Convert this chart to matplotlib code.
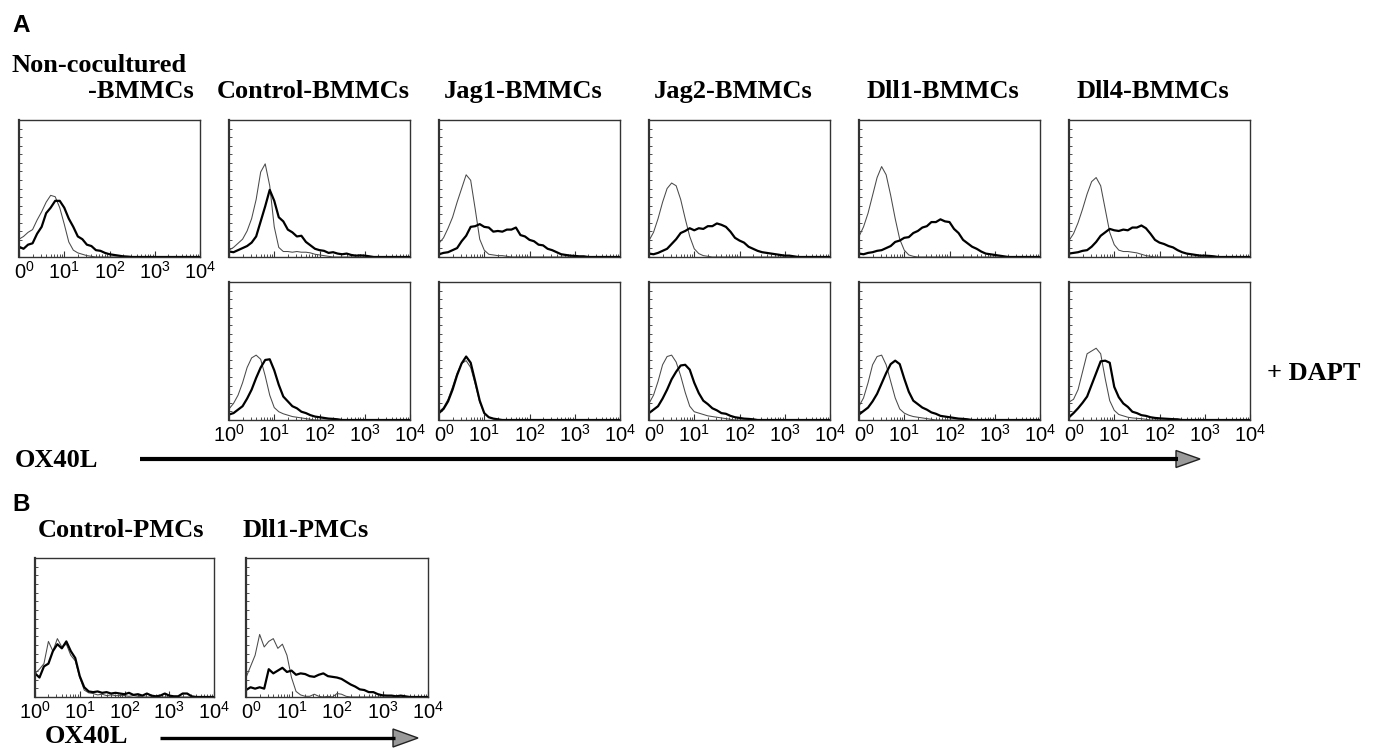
import numpy as np
import matplotlib
matplotlib.use("Agg")
import matplotlib.pyplot as plt

# ---------------- data ----------------
# x grid: log10 fluorescence, 0.0 .. 4.0 in 0.1 steps (41 channels)
log_x = [i / 10 for i in range(41)]

row1_titles = ["Non-cocultured", "Control-BMMCs", "Jag1-BMMCs", "Jag2-BMMCs", "Dll1-BMMCs", "Dll4-BMMCs"]
row1_title_2nd_line = "-BMMCs"
row2_label = "+ DAPT"
b_titles = ["Control-PMCs", "Dll1-PMCs"]
tick_values = [1, 10, 100, 1000, 10000]
tick_labels = ["10^0", "10^1", "10^2", "10^3", "10^4"]
axis_label = "OX40L"

# isotype (thin) and OX40L (thick) histograms, % of panel height
noncoc_thin = [13, 15, 18, 20, 27, 33, 40, 45, 44, 36,
               24, 11, 5, 3, 2, 1, 0.5, 0, 0, 0,
               0, 0, 0, 0, 0, 0, 0, 0, 0, 0,
               0, 0, 0, 0, 0, 0, 0, 0, 0, 0, 0]
noncoc_thick = [7.5, 6, 9, 10, 17, 22, 32, 36, 41, 41,
                36, 28, 22, 15, 13, 9, 8, 5, 4.5, 3,
                2, 1.5, 1, 0.5, 0.3, 0, 0, 0, 0, 0,
                0, 0, 0, 0, 0, 0, 0, 0, 0, 0, 0]

ctrl_thin = [5, 7, 10, 13, 19, 28, 42, 62, 68, 52,
             22, 7, 4, 4, 3.5, 4, 3.5, 3.5, 3, 2,
             1.5, 1, 0.5, 0, 0, 0, 0, 0, 0, 0,
             0, 0, 0, 0, 0, 0, 0, 0, 0, 0, 0]
ctrl_thick = [4, 3.5, 5, 6.5, 8, 10.5, 15, 26, 37, 49,
              41, 29, 26, 20, 18, 15, 15.5, 11, 8.5, 6,
              5, 4.5, 3, 3.5, 2.5, 2, 2.5, 1.5, 1, 1.2,
              1, 0.5, 0, 0, 0, 0, 0, 0, 0, 0, 0]
jag1_thin = [10, 14, 21, 29, 40, 50, 60, 56, 35, 13,
             5, 2, 1.5, 1, 1, 0.5, 0, 0, 0, 0,
             0, 0, 0, 0, 0, 0, 0, 0, 0, 0,
             0, 0, 0, 0, 0, 0, 0, 0, 0, 0, 0]
jag1_thick = [2, 3, 3.5, 5, 6.5, 11.5, 15.5, 22, 22.5, 24,
              22, 21.5, 18.5, 19, 18.5, 20, 20, 21.5, 16, 15,
              12.5, 11.5, 9, 8.5, 6, 5, 3.5, 2, 1.5, 1,
              0.8, 0.5, 0.5, 0, 0, 0, 0, 0, 0, 0, 0]
jag2_thin = [12, 18, 28, 40, 50, 54, 52, 42, 28, 15,
             6, 2.5, 1, 0.5, 0, 0, 0, 0, 0, 0,
             0, 0, 0, 0, 0, 0, 0, 0, 0, 0,
             0, 0, 0, 0, 0, 0, 0, 0, 0, 0, 0]
jag2_thick = [2.5, 2, 3, 4.5, 6, 9.5, 13, 17.5, 19, 21,
              19.5, 21, 20.5, 22.5, 22.5, 24.5, 23.5, 22, 18.5, 14,
              12, 10.5, 7.5, 6, 4.5, 3.5, 3, 2.5, 2, 1.5,
              1, 1, 0.5, 0, 0, 0, 0, 0, 0, 0, 0]
dll1_thin = [15, 22, 32, 45, 58, 66, 60, 45, 28, 13,
             5, 1.5, 0.5, 0, 0, 0, 0, 0, 0, 0,
             0, 0, 0, 0, 0, 0, 0, 0, 0, 0,
             0, 0, 0, 0, 0, 0, 0, 0, 0, 0, 0]
dll1_thick = [2.5, 2, 3, 3.5, 4.5, 5, 6.5, 8, 11, 12,
              14, 14.5, 17.5, 19, 21.5, 22.5, 25.5, 25.5, 27.5, 26,
              25.5, 20.5, 17.5, 12.5, 10, 7.5, 6, 4, 2.5, 2,
              1.5, 1, 0.5, 0, 0, 0, 0, 0, 0, 0, 0]
dll4_thin = [12, 17, 25, 35, 46, 55, 58, 52, 35, 18,
             9, 5, 4, 4, 3.5, 3, 2, 1, 0.5, 0,
             0, 0, 0, 0, 0, 0, 0, 0, 0, 0,
             0, 0, 0, 0, 0, 0, 0, 0, 0, 0, 0]
dll4_thick = [2.5, 3, 3.5, 4.5, 5, 7.5, 11, 15.5, 18, 20.5,
              19.5, 19, 20, 19.5, 21.5, 21.5, 23, 21, 17, 12.5,
              10.5, 9.5, 8, 7, 5, 3.5, 2.5, 2, 1.5, 1,
              1, 0.8, 0.5, 0, 0, 0, 0, 0, 0, 0, 0]

ctrl_dapt_thin = [8, 12, 18, 27, 38, 45, 47, 44, 32, 18,
                  9, 6, 4.5, 3.5, 2.5, 2, 1.5, 1, 0.5, 0,
                  0, 0, 0, 0, 0, 0, 0, 0, 0, 0,
                  0, 0, 0, 0, 0, 0, 0, 0, 0, 0, 0]
ctrl_dapt_thick = [4, 5, 7.5, 10, 15.5, 22, 30.5, 38, 43.5, 44,
                   36, 25.5, 17, 13.5, 10, 8.5, 6, 5, 3.5, 2.5,
                   2, 1.5, 1, 0.8, 0.5, 0, 0, 0, 0, 0,
                   0, 0, 0, 0, 0, 0, 0, 0, 0, 0, 0]
jag1_dapt_thin = [6, 9, 15, 24, 34, 41, 43, 38, 26, 13,
                  5, 2, 1, 0.5, 0, 0, 0, 0, 0, 0,
                  0, 0, 0, 0, 0, 0, 0, 0, 0, 0,
                  0, 0, 0, 0, 0, 0, 0, 0, 0, 0, 0]
jag1_dapt_thick = [5, 8, 13.5, 22, 32.5, 41, 46, 41.5, 28, 14,
                   5, 2, 1, 0.5, 0, 0, 0, 0, 0, 0,
                   0, 0, 0, 0, 0, 0, 0, 0, 0, 0,
                   0, 0, 0, 0, 0, 0, 0, 0, 0, 0, 0]
jag2_dapt_thin = [12, 18, 28, 40, 46, 47, 42, 32, 20, 10,
                  6, 5, 4, 3, 2.5, 2, 1.5, 1, 0.5, 0,
                  0, 0, 0, 0, 0, 0, 0, 0, 0, 0,
                  0, 0, 0, 0, 0, 0, 0, 0, 0, 0, 0]
jag2_dapt_thick = [5, 7.5, 10, 15.5, 22, 29.5, 35, 39.5, 40, 36.5,
                   27, 19.5, 14, 11.5, 8.5, 7, 5, 4.5, 3, 2,
                   1.5, 1, 0.8, 0.5, 0, 0, 0, 0, 0, 0,
                   0, 0, 0, 0, 0, 0, 0, 0, 0, 0, 0]
dll1_dapt_thin = [10, 16, 27, 40, 46, 47, 40, 28, 16, 8,
                  5, 3.5, 2.5, 2, 1.5, 1, 0.5, 0, 0, 0,
                  0, 0, 0, 0, 0, 0, 0, 0, 0, 0,
                  0, 0, 0, 0, 0, 0, 0, 0, 0, 0, 0]
dll1_dapt_thick = [4, 6.5, 9, 13.5, 19, 26.5, 34, 40.5, 43, 40.5,
                   30, 20.5, 14, 11.5, 9, 7.5, 5.5, 4.5, 3, 2.5,
                   2, 1.5, 1, 0.8, 0.5, 0, 0, 0, 0, 0,
                   0, 0, 0, 0, 0, 0, 0, 0, 0, 0, 0]
dll4_dapt_thin = [13, 15, 22, 35, 48, 50, 52, 48, 30, 14,
                  7, 4, 3, 2, 1.5, 1.2, 1, 0.5, 0, 0,
                  0, 0, 0, 0, 0, 0, 0, 0, 0, 0,
                  0, 0, 0, 0, 0, 0, 0, 0, 0, 0, 0]
dll4_dapt_thick = [2, 5, 8.5, 12.5, 17, 25.5, 34, 42.5, 43, 41.5,
                   24, 16.5, 12, 9.5, 6, 5, 3.5, 3, 2, 1.5,
                   1.2, 1, 0.8, 0.6, 0.5, 0, 0, 0, 0, 0,
                   0, 0, 0, 0, 0, 0, 0, 0, 0, 0, 0]

pmc_ctrl_thin = [17, 20, 24, 40, 33, 42, 36, 38, 30, 26,
                 14, 5, 3, 2.5, 1.5, 2, 1, 1.5, 1, 1,
                 1, 0.5, 1, 0.5, 0, 0, 0, 0, 0, 0,
                 0, 0, 0, 0, 0, 0, 0, 0, 0, 0, 0]
pmc_ctrl_thick = [17, 14, 22, 24, 33, 38, 35, 40, 33, 28,
                  15, 7, 4, 3.5, 4, 3, 3.5, 2.5, 3, 2.5,
                  2, 3, 1.5, 2, 1, 2.5, 1, 0.5, 1, 2.5,
                  1, 0.5, 0.5, 2.5, 2.5, 0.5, 0, 0, 0, 0, 0]
pmc_dll1_thin = [14, 22, 30, 45, 36, 40, 42, 35, 38, 30,
                 14, 4, 1.5, 0.5, 0.5, 2, 0.5, 0, 0.5, 0,
                 2.5, 2, 0.5, 0, 0, 0, 0, 0, 0, 0,
                 0, 0, 0, 0, 0, 0, 0, 0, 0, 0, 0]
pmc_dll1_thick = [5, 7, 6, 7, 6, 20, 17, 19, 21, 18,
                  19, 16, 17, 16.5, 15, 14.5, 16, 17, 15, 14.5,
                  14, 13, 11, 9, 7.5, 5.5, 5, 3.5, 3.5, 2,
                  1.2, 1, 1, 0.5, 1, 0.5, 0, 0, 0, 0, 0]

# first-channel spikes (height, % of panel height)
spikes_row1 = [95, 6, 52, 10, 10, 10]
spikes_row2 = [15, 15, 15, 15, 15]
spikes_b = [60, 63]

row1_data = [(noncoc_thin, noncoc_thick), (ctrl_thin, ctrl_thick), (jag1_thin, jag1_thick),
             (jag2_thin, jag2_thick), (dll1_thin, dll1_thick), (dll4_thin, dll4_thick)]
row2_data = [(ctrl_dapt_thin, ctrl_dapt_thick), (jag1_dapt_thin, jag1_dapt_thick),
             (jag2_dapt_thin, jag2_dapt_thick), (dll1_dapt_thin, dll1_dapt_thick),
             (dll4_dapt_thin, dll4_dapt_thick)]
b_data = [(pmc_ctrl_thin, pmc_ctrl_thick), (pmc_dll1_thin, pmc_dll1_thick)]

# ---------------- figure ----------------
W, H = 1380, 750
fig = plt.figure(figsize=(W / 100, H / 100), dpi=100)
fig.patch.set_facecolor("white")

SERIF = ["Liberation Serif", "DejaVu Serif"]
SANS = ["Liberation Sans", "DejaVu Sans"]
plt.rcParams["mathtext.fontset"] = "custom"
plt.rcParams["mathtext.rm"] = "Liberation Sans"
plt.rcParams["mathtext.it"] = "Liberation Sans"
TITLE_FS = 19


def px_axes(x0, y0, w, h):
    return fig.add_axes([x0 / W, 1 - (y0 + h) / H, w / W, h / H])


def fmt_label(s, clip):
    base, exp = s.split("^")
    if clip:
        base = base[1:]
    return r"$\mathregular{%s^{%s}}$" % (base, exp)


def draw_panel(ax, thin, thick, spike, show_labels, clip_first):
    xs = [10 ** v for v in log_x]
    ax.plot(xs, thin, color="#4a4a4a", lw=0.75)
    ax.plot(xs, thick, color="black", lw=1.6)
    ax.vlines(1.0, 0, spike, color="#333333", lw=1.1)
    ax.set_xscale("log")
    ax.set_xlim(1, 1e4)
    ax.set_ylim(0, 100)
    ax.set_yticks(np.arange(0, 101, 6.25))
    ax.set_yticklabels([])
    ax.set_xticks(tick_values)
    ax.xaxis.set_minor_locator(matplotlib.ticker.LogLocator(base=10, subs=np.arange(2, 10), numticks=20))
    ax.set_xticklabels([])
    ax.xaxis.set_minor_formatter(matplotlib.ticker.NullFormatter())
    ax.tick_params(axis="both", which="both", direction="in", color="#333333")
    ax.tick_params(axis="x", which="major", length=4, width=0.8)
    ax.tick_params(axis="x", which="minor", length=2, width=0.6)
    ax.tick_params(axis="y", which="major", length=2, width=0.6)
    if show_labels:
        for i, (v, t) in enumerate(zip(tick_values, tick_labels)):
            clip = clip_first and i == 0
            ax.annotate(fmt_label(t, clip), xy=(v, 0), xycoords=("data", "axes fraction"),
                        xytext=(4.0 if clip else 0, -3), textcoords="offset points",
                        ha="center", va="top", fontsize=14.5, family=SANS, annotation_clip=False)
    for sp in ax.spines.values():
        sp.set_linewidth(1.0)
        sp.set_color("#333333")
    ax.spines["left"].set_linewidth(1.6)


lefts = [19, 229, 439, 649, 859, 1069]
PW = 181

# Row 1
for i, (thin, thick) in enumerate(row1_data):
    ax = px_axes(lefts[i], 120, PW, 137)
    draw_panel(ax, thin, thick, spikes_row1[i], show_labels=(i == 0), clip_first=True)

# Row 2
for i, (thin, thick) in enumerate(row2_data):
    ax = px_axes(lefts[i + 1], 282, PW, 138)
    draw_panel(ax, thin, thick, spikes_row2[i], show_labels=True, clip_first=(i > 0))

# Panel B
b_lefts = [35, 246]
b_widths = [179, 182]
for i, (thin, thick) in enumerate(b_data):
    ax = px_axes(b_lefts[i], 558, b_widths[i], 139)
    draw_panel(ax, thin, thick, spikes_b[i], show_labels=True, clip_first=(i > 0))


def fx(x):
    return x / W


def fy(y):
    return 1 - y / H


def serif(x, y, s, **kw):
    fig.text(fx(x), fy(y), s, fontsize=TITLE_FS, fontweight="bold", family=SERIF, va="baseline", **kw)


# titles
fig.text(fx(12), fy(32), "A", fontsize=17.5, fontweight="bold", family=SANS, va="baseline")
serif(12, 72, row1_titles[0])
serif(194, 98, row1_title_2nd_line, ha="right")
for i, t in enumerate(row1_titles[1:]):
    serif(lefts[i + 1] + 84, 98, t, ha="center")
serif(1267, 380, row2_label)

serif(15, 467, axis_label)
fig.text(fx(12), fy(511), "B", fontsize=17.5, fontweight="bold", family=SANS, va="baseline")
b_title_x = [38, 243]
for i, t in enumerate(b_titles):
    serif(b_title_x[i], 537, t, ha="left")
serif(45, 743, axis_label)


def arrow(x0, x1, y, head_len, head_w, lw):
    fig.add_artist(plt.Line2D([fx(x0), fx(x1 - head_len + 2)], [fy(y), fy(y)], color="black", lw=lw,
                              transform=fig.transFigure, solid_capstyle="butt"))
    tri = plt.Polygon([[fx(x1 - head_len), fy(y - head_w / 2)], [fx(x1), fy(y)],
                       [fx(x1 - head_len), fy(y + head_w / 2)]], closed=True,
                      facecolor="#9a9a9a", edgecolor="#222222", lw=1.0, transform=fig.transFigure)
    fig.add_artist(tri)


arrow(140, 1200, 459, 24, 17, 3.0)
arrow(160, 418, 738, 25, 18, 2.4)

fig.savefig("out.png", dpi=100, facecolor="white")
